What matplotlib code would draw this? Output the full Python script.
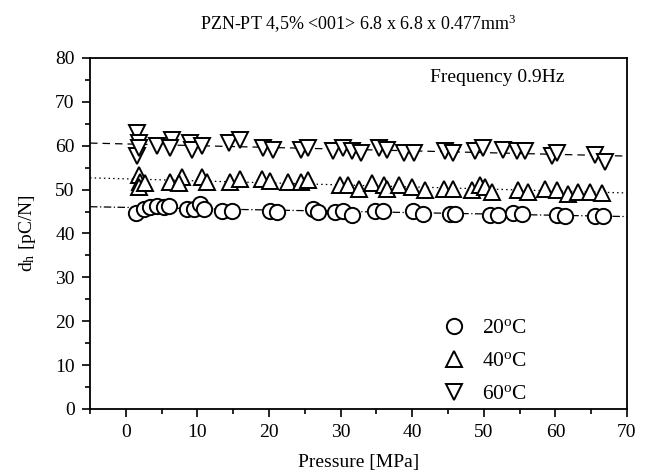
import numpy as np
import matplotlib
matplotlib.use("Agg")
import matplotlib.pyplot as plt
from matplotlib.ticker import MultipleLocator

plt.rcParams['font.family'] = ['Liberation Serif', 'DejaVu Serif']
plt.rcParams['mathtext.fontset'] = 'custom'
plt.rcParams['mathtext.rm'] = 'Liberation Serif'
plt.rcParams['mathtext.it'] = 'Liberation Serif:italic'

# data (pressure in MPa, d_h in pC/N)
p_20 = [1.4, 2.5, 3.4, 4.4, 5.3, 6.0, 8.6, 9.5, 10.4, 10.9, 13.5, 14.9, 20.2, 21.1,
        26.2, 26.9, 29.2, 30.4, 31.6, 34.8, 35.9, 40.1, 41.5, 45.3, 46.0,
        50.9, 52.0, 54.1, 55.3, 60.2, 61.3, 65.5, 66.6]
d_20 = [44.6, 45.6, 46.1, 46.3, 46.1, 46.3, 45.6, 45.6, 46.8, 45.6, 45.2, 45.2, 45.2, 44.9,
        45.6, 44.9, 44.9, 45.2, 44.3, 45.2, 45.2, 45.2, 44.5, 44.5, 44.5,
        44.3, 44.3, 44.6, 44.4, 44.2, 44.0, 43.9, 43.9]

p_40 = [1.8, 2.0, 1.8, 2.7, 6.2, 7.9, 7.4, 10.7, 11.4, 14.6, 16.0, 19.0, 20.2, 22.7,
        24.4, 25.5, 29.9, 31.1, 32.5, 34.4, 36.0, 36.5, 38.1, 40.0, 41.8, 44.4, 45.7,
        48.3, 49.5, 50.2, 51.1, 54.8, 56.2, 58.5, 60.2, 61.8, 63.2, 64.8, 66.5]
d_40 = [53.3, 51.8, 50.6, 51.4, 51.8, 52.9, 51.4, 52.9, 51.8, 51.8, 52.3, 52.3, 52.0, 51.8,
        51.8, 52.1, 51.0, 51.0, 50.2, 51.4, 51.0, 50.2, 51.0, 50.6, 49.8, 50.2, 50.2,
        49.8, 51.0, 50.6, 49.5, 49.8, 49.5, 50.2, 49.8, 49.1, 49.5, 49.5, 49.3]

p_60 = [1.6, 1.8, 1.6, 1.8, 4.4, 6.5, 6.2, 9.0, 9.3, 10.7, 14.4, 16.0, 19.2, 20.6,
        24.4, 25.5, 29.0, 30.4, 31.6, 32.9, 35.3, 36.5, 38.8, 40.2, 44.6, 45.7,
        48.8, 49.9, 52.7, 54.6, 55.7, 59.5, 60.2, 65.5, 66.9]
d_60 = [62.9, 60.6, 57.6, 59.5, 59.9, 61.4, 59.5, 60.6, 59.1, 59.9, 60.6, 61.4, 59.5, 59.1,
        59.1, 59.5, 58.7, 59.5, 58.7, 58.3, 59.5, 59.1, 58.3, 58.3, 58.7, 58.3,
        58.7, 59.5, 59.1, 58.7, 58.7, 57.6, 58.3, 57.9, 56.4]

labels = ['20$^{\\rm o}$C', '40$^{\\rm o}$C', '60$^{\\rm o}$C']
markers = ['o', '^', 'v']
fit_styles = [(0, (6, 2, 1, 2)), (0, (1.2, 2.5)), (0, (6, 4))]

fig = plt.figure(figsize=(6.5, 4.75), dpi=100)
ax = fig.add_axes([0.1385, 0.139, 0.8261, 0.739])

series = [(p_20, d_20), (p_40, d_40), (p_60, d_60)]
xfit = np.array([-5, 70])
for (p, d), lab, m, ls in zip(series, labels, markers, fit_styles):
    ax.plot(p, d, linestyle='none', marker=m, markersize=11, markerfacecolor='white',
            markeredgecolor='black', markeredgewidth=1.4, label=lab)
    k, b = np.polyfit(p, d, 1)
    ax.plot(xfit, k * xfit + b, color='black', linewidth=0.9, linestyle=ls, zorder=1)

ax.set_xlim(-5, 70)
ax.set_ylim(0, 80)
ax.xaxis.set_major_locator(MultipleLocator(10))
ax.xaxis.set_minor_locator(MultipleLocator(5))
ax.yaxis.set_major_locator(MultipleLocator(10))
ax.yaxis.set_minor_locator(MultipleLocator(5))
ax.tick_params(which='both', direction='out', top=False, right=False, labelsize=14, width=1.2)
ax.tick_params(which='major', length=6, pad=5)
ax.tick_params(which='minor', length=3.5)
for s in ax.spines.values():
    s.set_linewidth(1.3)

ax.set_xlabel('Pressure [MPa]', fontsize=14, labelpad=9)
ax.set_ylabel('d$_{\\rm h}$ [pC/N]', fontsize=14, labelpad=12)
ax.set_title('PZN-PT 4,5% <001> 6.8 x 6.8 x 0.477mm$^{\\rm 3}$', fontsize=13, pad=20)
ax.text(0.758, 0.945, 'Frequency 0.9Hz', transform=ax.transAxes, ha='center', va='center',
        fontsize=14)

ax.legend(loc='lower left', frameon=False, fontsize=15.5, labelspacing=0.6, handletextpad=0.7,
          bbox_to_anchor=(0.625, -0.03), borderaxespad=0.3, handlelength=1.2)

fig.savefig('out.png', dpi=100)
